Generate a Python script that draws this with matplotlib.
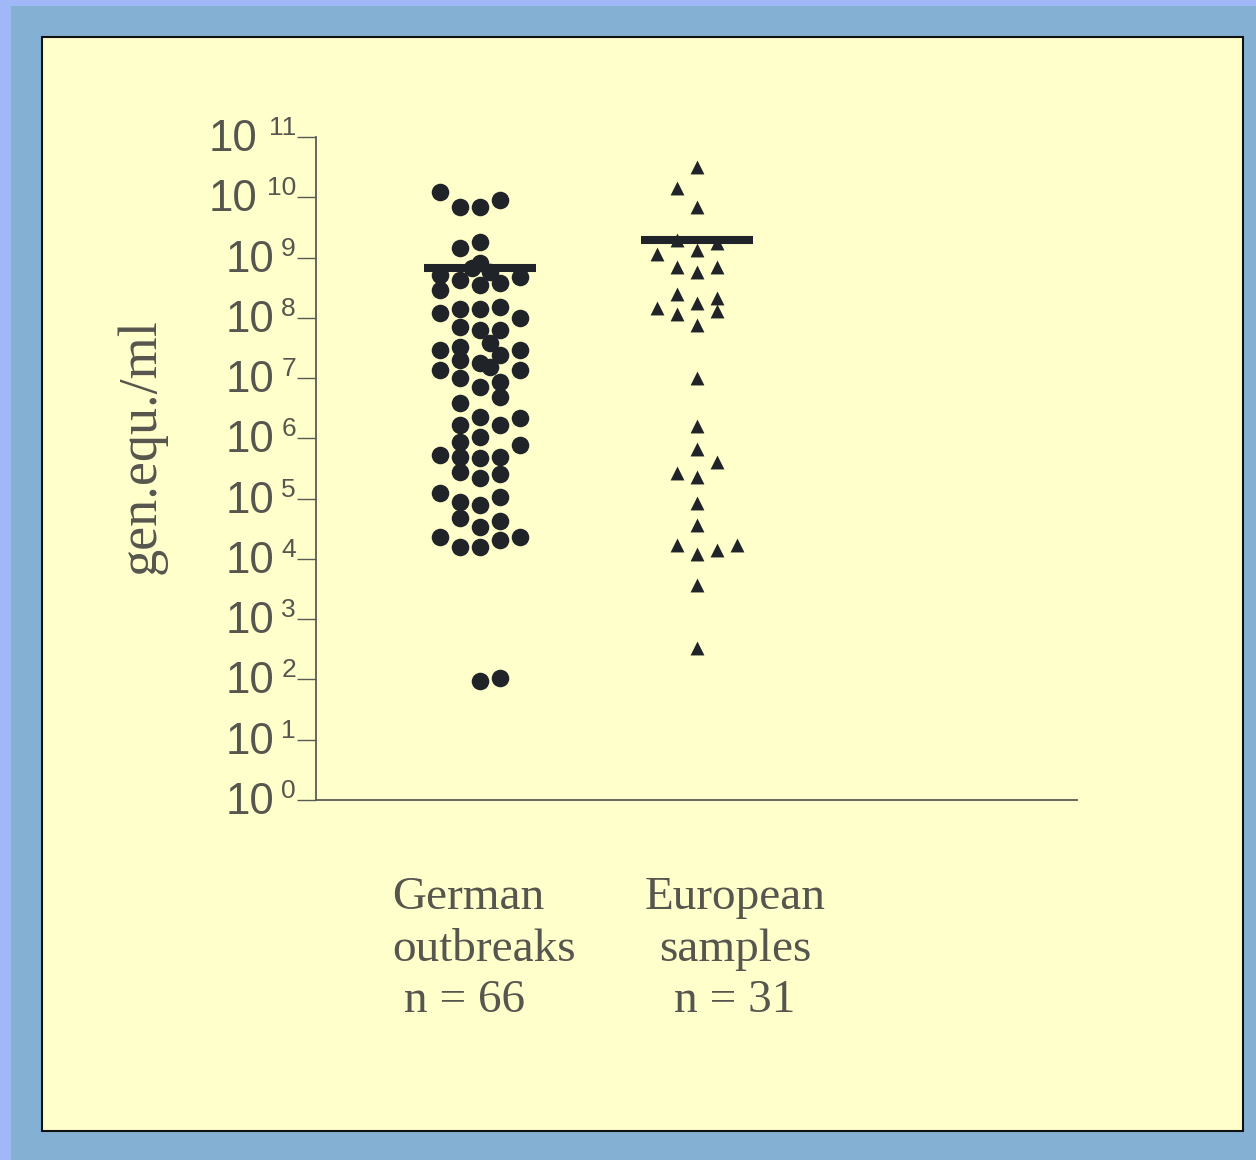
import matplotlib
matplotlib.use("Agg")
import matplotlib.pyplot as plt
from matplotlib.patches import Rectangle
import numpy as np

# ---------------- data ----------------
categories = ["German outbreaks", "European samples"]
category_label_lines = [["German", "outbreaks", " n = 66"], ["European", "samples", "n = 31"]]

# column slot (horizontal scatter slot) and value (gen.equ./ml)
german_cols = [-2, -1, 0, 1, -1, 0, 0, -0.4, -2, -1, 0.5, 2, -2, 0, 1, -2, -1, 0, 1, 2,
               -1, 0, 1, 0.5, -2, -1, 1, 2, -1, 0, 0.5, -2, 2, -1, 1, 0, -1, 1, 0, 2,
               -1, 1, -1, 0, 2, -2, -1, 0, 1, -1, 0, 1, -2, -1, 0, 1, -1, 0, 1, -2,
               -1, 0, 1, 2, 0, 1]
german_vals = [1.22e10, 6.9e9, 6.9e9, 9.0e9, 1.44e9, 1.81e9, 8.1e8, 6.7e8, 5.1e8, 4.2e8,
               5.8e8, 4.8e8, 2.9e8, 3.5e8, 3.8e8, 1.2e8, 1.4e8, 1.4e8, 1.5e8, 9.9e7,
               7.0e7, 6.3e7, 6.3e7, 3.8e7, 2.9e7, 3.3e7, 2.4e7, 2.9e7, 2.0e7, 1.8e7,
               1.5e7, 1.36e7, 1.36e7, 1.0e7, 8.6e6, 7.1e6, 3.9e6, 4.9e6, 2.3e6, 2.2e6,
               1.67e6, 1.67e6, 8.7e5, 1.05e6, 7.8e5, 5.3e5, 4.9e5, 4.7e5, 4.9e5, 2.8e5,
               2.2e5, 2.6e5, 1.24e5, 8.8e4, 7.9e4, 1.06e5, 4.8e4, 3.4e4, 4.3e4, 2.3e4,
               1.58e4, 1.58e4, 2.06e4, 2.3e4, 94, 106]

european_cols = [0, -1, 0, -1, 1, -2, 0, -1, 0, 1, -1, -2, 0, 1, -1, 1, 0, 0, 0, 0,
                 1, -1, 0, 0, 0, -1, 0, 1, 2, 0, 0]
european_vals = [3.2e10, 1.43e10, 6.9e9, 1.96e9, 1.75e9, 1.15e9, 1.34e9, 7.0e8, 5.8e8, 7.0e8,
                 2.5e8, 1.46e8, 1.76e8, 2.1e8, 1.16e8, 1.3e8, 7.6e7, 1.0e7, 1.6e6, 6.7e5,
                 4.1e5, 2.7e5, 2.3e5, 8.5e4, 3.7e4, 1.7e4, 1.2e4, 1.4e4, 1.7e4, 3.7e3, 333]

group_means = [6.7e8, 1.96e9]
y_exponents = list(range(0, 12))
y_label = "gen.equ./ml"

# ---------------- style ----------------
W, H = 1256, 1160
DPI = 100
ink = "#202428"
grey_text = "#56564e"
spine_col = "#5a5a55"
slot = 0.0922          # horizontal spacing of a scatter slot (data units)
serif = ["Liberation Serif", "DejaVu Serif"]
sans = ["Liberation Sans", "DejaVu Sans"]

fig = plt.figure(figsize=(W / DPI, H / DPI), dpi=DPI)
fig.patch.set_facecolor("#84b0d4")

# outer light strips (top and left)
fig.add_artist(Rectangle((0, 0), 11 / W, 1, transform=fig.transFigure,
                         facecolor="#a0b8f8", edgecolor="none", zorder=-3))
fig.add_artist(Rectangle((0, 1 - 6 / H), 1, 6 / H, transform=fig.transFigure,
                         facecolor="#a0b8f8", edgecolor="none", zorder=-3))
# pale yellow panel
fig.add_artist(Rectangle((42 / W, 1 - 1131 / H), (1243 - 42) / W, (1131 - 37) / H,
                         transform=fig.transFigure, facecolor="#ffffcc",
                         edgecolor="#111111", linewidth=1.5, zorder=-2))

ax = fig.add_axes([316 / W, 1 - 800 / H, (1077 - 316) / W, (800 - 137) / H])
ax.set_zorder(1)
ax.set_facecolor("none")
ax.set_yscale("log")
ax.set_ylim(1, 1e11)
ax.set_xlim(1 - 164 / 217, 1 + 597 / 217)

positions = [1, 2]
ax.scatter(positions[0] + np.array(german_cols) * slot, german_vals, s=160,
           marker="o", color=ink, linewidths=0, zorder=2)
ax.scatter(positions[1] + np.array(european_cols) * slot, european_vals, s=100,
           marker="^", color=ink, linewidths=0, zorder=2)
ax.hlines(group_means, [p - 0.26 for p in positions], [p + 0.26 for p in positions],
          colors=ink, linewidth=5.8, zorder=3)

for side in ["top", "right"]:
    ax.spines[side].set_visible(False)
for side in ["left", "bottom"]:
    ax.spines[side].set_color(spine_col)
    ax.spines[side].set_linewidth(1.3)

ax.set_xticks([])
ax.set_yticks([10.0 ** k for k in y_exponents])
ax.yaxis.set_minor_locator(matplotlib.ticker.NullLocator())
ax.tick_params(axis="y", direction="out", length=13.7, width=1.0, color=spine_col,
               labelleft=False)

# tick labels: "10" with a raised exponent
for k in y_exponents:
    exp = str(k)
    ax.annotate(exp, xy=(0, 10.0 ** k), xycoords=("axes fraction", "data"),
                xytext=(-20, 2), textcoords="offset pixels", ha="right", va="baseline",
                fontsize=19, family=sans, color=grey_text, annotation_clip=False)
    dx = 59 if len(exp) == 2 else 42
    ax.annotate("10", xy=(0, 10.0 ** k), xycoords=("axes fraction", "data"),
                xytext=(-dx, -14), textcoords="offset pixels", ha="right", va="baseline",
                fontsize=31.5, family=sans, color=grey_text, annotation_clip=False)

fig.text(141 / W, 1 - 446 / H, y_label, rotation=90, ha="center", va="center",
         fontsize=39, family=serif, color=grey_text)

# category labels
baselines = [909, 961, 1012]
for i, lines in enumerate(category_label_lines):
    for j, line in enumerate(lines):
        if i == 0:
            fig.text(392 / W, 1 - baselines[j] / H, line, ha="left", va="baseline",
                     fontsize=34, family=serif, color=grey_text)
        else:
            fig.text(735 / W, 1 - baselines[j] / H, line, ha="center", va="baseline",
                     fontsize=34, family=serif, color=grey_text)

fig.savefig("out.png", dpi=DPI, facecolor=fig.get_facecolor())
